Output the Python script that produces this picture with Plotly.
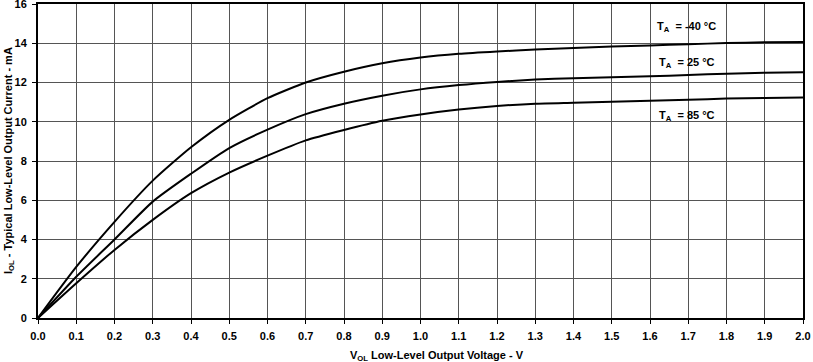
import plotly.graph_objects as go

v_ol = [0.0, 0.1, 0.2, 0.3, 0.4, 0.5, 0.6, 0.7, 0.8, 0.9, 1.0,
        1.1, 1.2, 1.3, 1.4, 1.5, 1.6, 1.7, 1.8, 1.9, 2.0]
i_m40 = [0.0, 2.6, 4.9, 7.0, 8.7, 10.1, 11.2, 12.0, 12.55, 12.98, 13.27,
         13.46, 13.58, 13.68, 13.76, 13.83, 13.89, 13.95, 14.01, 14.05, 14.07]
i_25 = [0.0, 2.1, 4.0, 5.93, 7.35, 8.66, 9.6, 10.39, 10.92, 11.33, 11.65,
        11.87, 12.03, 12.15, 12.22, 12.27, 12.32, 12.38, 12.45, 12.5, 12.52]
i_85 = [0.0, 1.77, 3.47, 5.0, 6.36, 7.41, 8.27, 9.05, 9.58, 10.05, 10.37,
        10.62, 10.8, 10.92, 10.97, 11.02, 11.07, 11.12, 11.18, 11.21, 11.23]

labels = ["T<sub>A</sub>  = -40 °C", "T<sub>A</sub>  = 25 °C", "T<sub>A</sub>  = 85 °C"]
label_x = [1.696, 1.696, 1.696]
label_y = [14.84, 12.98, 10.3]

x_ticks = [round(i * 0.1, 1) for i in range(21)]
x_tick_text = [f"{t:.1f}" for t in x_ticks]
y_ticks = list(range(0, 17, 2))

FAMILY = "Liberation Sans, Arial"
font = dict(family=FAMILY, size=11, color="black")

fig = go.Figure()
for ys in (i_m40, i_25, i_85):
    fig.add_trace(go.Scatter(x=v_ol, y=ys, mode="lines",
                             line=dict(color="black", width=2, shape="spline", smoothing=0.6),
                             showlegend=False, hoverinfo="skip"))

for t, lx, ly in zip(labels, label_x, label_y):
    fig.add_annotation(x=lx, y=ly, text=f"<b>{t}</b>", showarrow=False, font=font,
                       xanchor="center", yanchor="middle")

fig.update_layout(
    width=813, height=362,
    margin=dict(l=38, r=10, t=4, b=44, autoexpand=False),
    paper_bgcolor="white", plot_bgcolor="white",
    font=font,
    xaxis=dict(range=[0, 2.0], tickvals=x_ticks, ticktext=[f"<b>{s}</b>" for s in x_tick_text],
               showgrid=True, gridcolor="#555555", gridwidth=1, automargin=False,
               showline=True, linecolor="black", linewidth=2, mirror=True,
               ticks="outside", ticklen=4, tickcolor="black", zeroline=False,
               ticklabelstandoff=3, ticklabeloverflow="allow"),
    yaxis=dict(range=[0, 16], tickvals=y_ticks, ticktext=[f"<b>{v}</b>" for v in y_ticks],
               showgrid=True, gridcolor="#555555", gridwidth=1, automargin=False,
               showline=True, linecolor="black", linewidth=2, mirror=True,
               ticks="outside", ticklen=4, tickcolor="black", zeroline=False,
               ticklabelstandoff=3, ticklabeloverflow="allow"),
)

fig.add_annotation(x=(437 - 38) / 765, y=-(356 - 318) / 314, xref="paper", yref="paper",
                   text="<b>V<sub>OL</sub> Low-Level Output Voltage - V</b>",
                   showarrow=False, font=font, xanchor="center", yanchor="middle")
fig.add_annotation(x=-(38 - 9) / 765, y=0.5, xref="paper", yref="paper",
                   text="<b>I<sub>OL</sub> - Typical Low-Level Output Current - mA</b>",
                   showarrow=False, font=font, textangle=-90, xanchor="center", yanchor="middle")

fig.write_html("out.html", config={"displayModeBar": False},
               post_script="document.body.style.margin='0';document.body.style.overflow='hidden';")
